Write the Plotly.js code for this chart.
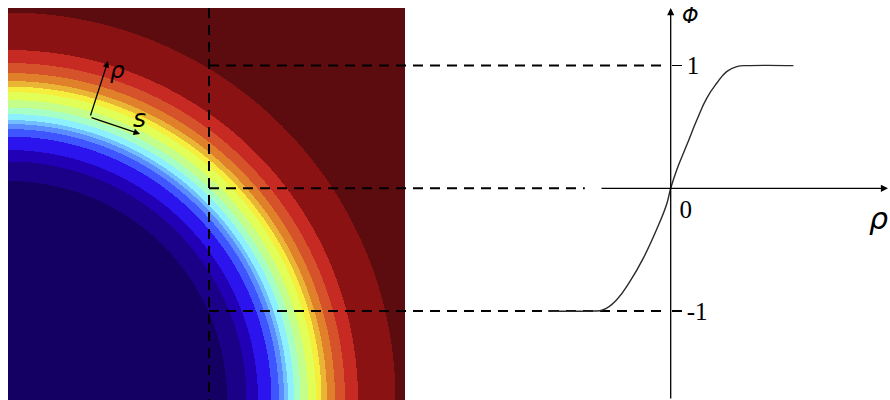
<!DOCTYPE html>
<html>
<head>
<meta charset="utf-8">
<script src="https://cdn.plot.ly/plotly-3.0.1.min.js"></script>
<style>
  html, body { margin: 0; padding: 0; background: #ffffff; }
  #chart { width: 890px; height: 400px; }
</style>
</head>
<body>
<div id="chart"></div>
<script>
// ---------- data ----------
// left panel: radii (in px-like grid units from the lower-left centre) of the band boundaries
const ringRadii = [219, 238.5, 250, 263.5, 271, 276, 280, 286, 292.5, 300, 308, 313.5, 319, 327, 337, 350, 387.5];
// band colours from inside (phi = -1) to outside (phi = +1)
const ringColors = ['#130062', '#1b0088', '#2200b6', '#2b14ee', '#3f55ff', '#5a8cff', '#72bfff', '#8cf0ff',
                    '#a6ffc4', '#c4ff8c', '#e2ff58', '#f6ee3c', '#eab534', '#e0802a', '#d6522a', '#c62a22',
                    '#8a1212', '#5c0c0e'];
const fieldWidth = 397;
const fieldHeight = 392;
const probeX = 201;               // vertical dashed probe line on the left panel

// right panel: profile phi(rho)
const curveRho = [-1.0, -0.658, -0.549, -0.440, -0.332, -0.223, -0.114, -0.033, 0, 0.049, 0.130, 0.212, 0.293, 0.375, 0.456, 0.538, 0.646, 1.0];
const curvePhi = [-1, -1, -0.99, -0.908, -0.759, -0.569, -0.334, -0.130, 0, 0.150, 0.350, 0.554, 0.733, 0.856, 0.951, 0.992, 1.0, 1.0];
const guideLevels = [1, 0, -1];
const guideEndRho = [-0.05, -0.70, -0.05];
const phiTickVals = [1, -1];
const phiTickText = ['1', '-1'];
const rhoTickVals = [0];
const rhoTickText = ['0'];

// ---------- geometry ----------
const W = 890, H = 400;
const pxPerUnit = 122.7, originPxX = 670.7, originPxY = 188.3;
const x2range = [-originPxX / pxPerUnit, (W - originPxX) / pxPerUnit];
const y2range = [-(H - originPxY) / pxPerUnit, originPxY / pxPerUnit];
const hxDomain = [8 / W, 405 / W];
const hyDomain = [0, 392 / H];

// ---------- heatmap field: band index from the boundary radii ----------
const gx = [], gy = [], gz = [];
for (let i = 0; i < fieldWidth; i++) gx.push(i + 0.5);
for (let j = 0; j < fieldHeight; j++) gy.push(j + 0.5);
for (let j = 0; j < fieldHeight; j++) {
  const row = [];
  for (let i = 0; i < fieldWidth; i++) {
    const r = Math.hypot(gx[i], gy[j]);
    let k = 0;
    while (k < ringRadii.length && r > ringRadii[k]) k++;
    row.push(k);
  }
  gz.push(row);
}
const nb = ringColors.length;
const cscale = [];
ringColors.forEach((c, k) => { cscale.push([k / nb, c]); cscale.push([(k + 1) / nb, c]); });

// probe position expressed on the right-hand axes
const probePaper = hxDomain[0] + (probeX / fieldWidth) * (hxDomain[1] - hxDomain[0]);
const probeRho = x2range[0] + probePaper * (x2range[1] - x2range[0]);
const heatTopPhi = y2range[0] + hyDomain[1] * (y2range[1] - y2range[0]);

const traces = [];
traces.push({
  type: 'heatmap', x: gx, y: gy, z: gz, xaxis: 'x', yaxis: 'y',
  colorscale: cscale, zmin: -0.5, zmax: nb - 0.5, showscale: false, zsmooth: false, hoverinfo: 'skip'
});
// vertical dashed probe line
traces.push({
  type: 'scatter', mode: 'lines', xaxis: 'x2', yaxis: 'y2',
  x: [probeRho, probeRho], y: [heatTopPhi, y2range[0]],
  line: { color: '#000', width: 2, dash: '10px,7px' }, hoverinfo: 'skip'
});
// horizontal dashed guides
guideLevels.forEach((lv, i) => {
  traces.push({
    type: 'scatter', mode: 'lines', xaxis: 'x2', yaxis: 'y2',
    x: [probeRho, guideEndRho[i]], y: [lv, lv],
    line: { color: '#000', width: 2, dash: '10px,7px' }, hoverinfo: 'skip'
  });
});
// the profile curve
traces.push({
  type: 'scatter', mode: 'lines', xaxis: 'x2', yaxis: 'y2',
  x: curveRho, y: curvePhi,
  line: { color: '#2a2a2a', width: 1.4, shape: 'spline', smoothing: 1.3 }, hoverinfo: 'skip'
});

const arrowTipPhi = (originPxY - 8) / pxPerUnit;
const arrowTipRho = (888 - originPxX) / pxPerUnit;
const xAxisStartRho = (600 - originPxX) / pxPerUnit;

const annotations = [
  // phi axis (vertical) with arrow
  { xref: 'x2', yref: 'y2', axref: 'x2', ayref: 'y2', x: 0, y: arrowTipPhi, ax: 0, ay: y2range[0],
    text: '', showarrow: true, arrowhead: 2, arrowsize: 1.1, arrowwidth: 1.3, arrowcolor: '#000', standoff: 0 },
  // rho axis (horizontal) with arrow
  { xref: 'x2', yref: 'y2', axref: 'x2', ayref: 'y2', x: arrowTipRho, y: 0, ax: xAxisStartRho, ay: 0,
    text: '', showarrow: true, arrowhead: 2, arrowsize: 1.1, arrowwidth: 1.3, arrowcolor: '#000', standoff: 0 },
  // axis names
  { xref: 'x2', yref: 'y2', x: (690 - originPxX) / pxPerUnit, y: (originPxY - 16) / pxPerUnit,
    text: '<i>Φ</i>', showarrow: false, font: { family: 'DejaVu Sans', size: 21, color: '#000' } },
  { xref: 'paper', yref: 'y2', x: 1, y: (originPxY - 218) / pxPerUnit, xanchor: 'right',
    text: '<i>ρ</i>', showarrow: false, font: { family: 'DejaVu Sans', size: 30, color: '#000' } },
  // local coordinate arrows on the left panel
  { xref: 'x', yref: 'y', axref: 'x', ayref: 'y', x: 100, y: 339, ax: 82, ay: 283,
    text: '', showarrow: true, arrowhead: 2, arrowsize: 1, arrowwidth: 1.3, arrowcolor: '#000', standoff: 0 },
  { xref: 'x', yref: 'y', axref: 'x', ayref: 'y', x: 132, y: 266, ax: 82, ay: 283,
    text: '', showarrow: true, arrowhead: 2, arrowsize: 1, arrowwidth: 1.3, arrowcolor: '#000', standoff: 0 },
  { xref: 'x', yref: 'y', x: 109, y: 330, text: '<i>ρ</i>', showarrow: false,
    font: { family: 'DejaVu Sans', size: 23, color: '#000' } },
  { xref: 'x', yref: 'y', x: 131, y: 282, text: '<i>s</i>', showarrow: false,
    font: { family: 'DejaVu Sans', size: 25, color: '#000' } }
];

const layout = {
  width: W, height: H,
  margin: { l: 0, r: 0, t: 0, b: 0, pad: 0 },
  paper_bgcolor: '#ffffff', plot_bgcolor: 'rgba(0,0,0,0)',
  showlegend: false,
  xaxis: { domain: hxDomain, range: [0, fieldWidth], visible: false, fixedrange: true },
  yaxis: { domain: hyDomain, range: [0, fieldHeight], visible: false, fixedrange: true },
  xaxis2: {
    domain: [0, 1], range: x2range, anchor: 'free', position: (H - originPxY) / H,
    showgrid: false, zeroline: false, showline: false,
    tickmode: 'array', tickvals: rhoTickVals, ticktext: rhoTickText, ticks: '',
    ticklabelshift: 15, ticklabelstandoff: 4,
    tickfont: { family: 'Liberation Serif', size: 25, color: '#000' }, fixedrange: true
  },
  yaxis2: {
    domain: [0, 1], range: y2range, anchor: 'free', position: originPxX / W, side: 'right',
    showgrid: false, zeroline: false, showline: false,
    tickmode: 'array', tickvals: phiTickVals, ticktext: phiTickText,
    ticks: 'outside', ticklen: 10, tickwidth: 1.3, tickcolor: '#000',
    tickfont: { family: 'Liberation Serif', size: 25, color: '#000' }, fixedrange: true
  },
  annotations: annotations
};

Plotly.newPlot('chart', traces, layout, { displayModeBar: false, staticPlot: true });
</script>
</body>
</html>
